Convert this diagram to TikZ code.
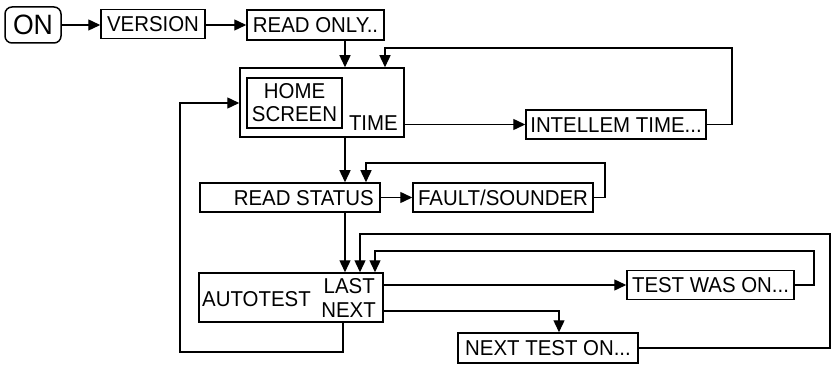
\documentclass[tikz,border=0pt]{standalone}
\usepackage{fontspec}
\setmainfont{Liberation Sans}
\newfontfamily\diagfont[FakeStretch=0.95]{Liberation Sans}
\usetikzlibrary{arrows.meta,calc}
\begin{document}
\begin{tikzpicture}[x=1pt,y=-1pt,
  txt/.style={font=\diagfont\fontsize{21.5}{23}\selectfont},
  box/.style={draw,line width=1.5pt,inner sep=0pt,txt,text height=15.4pt,text depth=0pt,minimum height=29pt},
  conn/.style={line width=1.4pt},
  arr/.style={conn,-{Triangle[length=12pt,width=11pt]}},
  lbl/.style={inner sep=0pt,txt}]
\useasboundingbox (0,0) rectangle (840,366);
% nodes
\node[box,rounded corners=7pt,minimum width=56pt,minimum height=36pt,font=\diagfont\fontsize{28}{30}\selectfont,text height=20pt] (on) at (33,25) {ON};
\node[box,minimum width=104pt,minimum height=29pt] (version) at (153,24) {VERSION};
\node[box,minimum width=137pt,minimum height=30pt] (readonly) at (315.5,25) {READ ONLY..};
\node[box,minimum width=164pt,minimum height=69pt] (main) at (322,102.5) {};
\node[draw,line width=1.5pt,inner sep=0pt,txt,minimum width=95pt,minimum height=50pt,align=center] (home) at (294.5,103) {HOME\\SCREEN};
\node[lbl,anchor=base east] (time) at (398,131) {TIME};
\node[box,minimum width=180pt] (intellem) at (616,124.5) {INTELLEM TIME...};
\node[box,minimum width=180pt] (status) at (290,197.5) {};
\node[lbl,anchor=base east] (statustext) at (374,205) {READ STATUS};
\node[box,minimum width=180pt] (fault) at (503,197.5) {FAULT/SOUNDER};
\node[box,minimum width=184pt,minimum height=49pt] (auto) at (291,297.5) {};
\node[lbl,anchor=base west] (autotext) at (202,306) {AUTOTEST};
\node[lbl,anchor=base east] (last) at (375,293) {LAST};
\node[lbl,anchor=base east] (nexttext) at (376,317) {NEXT};
\node[box,minimum width=167pt] (testwas) at (710.5,285) {TEST WAS ON...};
\node[box,minimum width=180pt,minimum height=30pt] (next) at (548,348) {NEXT TEST ON...};
% helper coordinates
\coordinate (x343) at (343,0);
\coordinate (x345) at (345,0);
\coordinate (x360) at (360,0);
\coordinate (x366) at (366,0);
\coordinate (x375) at (375,0);
\coordinate (x385) at (385,0);
\coordinate (x559) at (559,0);
\coordinate (y103) at (0,103);
\coordinate (y311) at (0,311);
\coordinate (l1) at (732,48);
\coordinate (l2) at (605,163);
\coordinate (l3) at (830,234);
\coordinate (l4) at (814,251);
\coordinate (l5) at (180,352);
% connectors
\draw[arr] (on) -- (version.west |- on);
\draw[arr] (version.east |- on) -- (readonly);
\draw[arr] (readonly.south -| x345) -- (main.north -| x345);
\draw[arr] (main.east |- intellem.west) -- (intellem.west);
\draw[arr] (intellem.east) -| (l1) -| (main.north -| x385);
\draw[arr] (main.south -| x345) -- (status.north -| x345);
\draw[arr] (status) -- (fault);
\draw[arr] (fault.east) -| (l2) -| (status.north -| x366);
\draw[arr] (status.south -| x345) -- (auto.north -| x345);
\draw[arr] (next.east) -| (l3) -| (auto.north -| x360);
\draw[arr] (testwas.east) -| (l4) -| (auto.north -| x375);
\draw[arr] (auto.east |- testwas.west) -- (testwas.west);
\draw[arr] (auto.east |- y311) -| (next.north -| x559);
\draw[arr] (auto.south -| x343) |- (l5) |- (main.west |- y103);
\end{tikzpicture}
\end{document}
